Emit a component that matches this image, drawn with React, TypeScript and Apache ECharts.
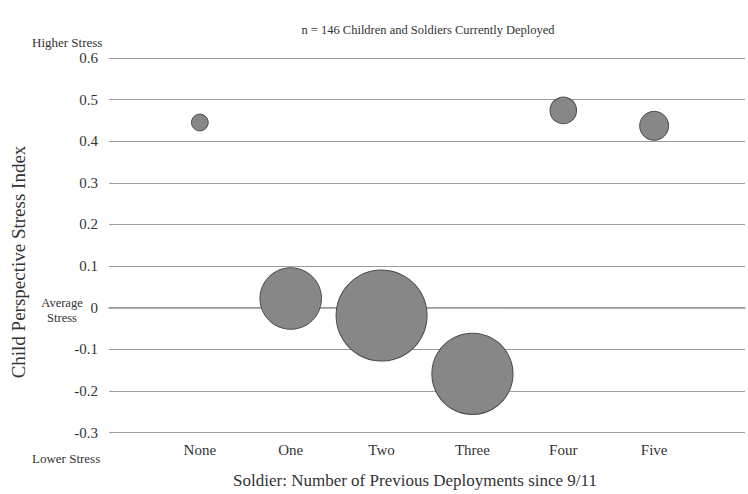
import React, { useEffect, useRef } from "react";
import * as echarts from "echarts";

const categories = ["None", "One", "Two", "Three", "Four", "Five"];
const stressIndex = [0.445, 0.022, -0.019, -0.159, 0.474, 0.437];
const childCounts = [2, 27, 59, 47, 5, 6];
const yTicks = [-0.3, -0.2, -0.1, 0, 0.1, 0.2, 0.3, 0.4, 0.5, 0.6];

const FONT = "'Liberation Serif', 'Times New Roman', serif";

export default function App() {
  const ref = useRef<HTMLDivElement>(null);
  useEffect(() => {
    if (!ref.current) return;
    const chart = echarts.init(ref.current, null, { renderer: "svg" });
    const data = categories.map((c, i) => [i, stressIndex[i], childCounts[i]]);
    chart.setOption({
      animation: false,
      backgroundColor: "#ffffff",
      textStyle: { fontFamily: FONT },
      grid: { left: 109, top: 58, width: 637, height: 374.5, containLabel: false },
      title: {
        text: "n = 146 Children and Soldiers Currently Deployed",
        left: 423,
        top: 18,
        textAlign: "center",
        textStyle: { fontFamily: FONT, fontSize: 12.5, fontWeight: "normal", color: "#333" },
      },
      xAxis: {
        type: "value",
        min: -1,
        max: 6,
        interval: 1,
        axisLine: { show: true, lineStyle: { color: "#969696", width: 1.5 } },
        axisTick: { show: false },
        splitLine: { show: false },
        axisLabel: {
          fontFamily: FONT,
          fontSize: 15,
          color: "#333",
          margin: 10,
          formatter: (v: number) => (categories[v] !== undefined ? categories[v] : ""),
        },
      },
      yAxis: {
        type: "value",
        min: yTicks[0],
        max: yTicks[yTicks.length - 1],
        interval: 0.1,
        axisLine: { show: false },
        axisTick: { show: false },
        splitLine: { show: true, lineStyle: { color: "#9c9c9c", width: 1 } },
        axisLabel: {
          fontFamily: FONT,
          fontSize: 15,
          color: "#333",
          margin: 11,
          formatter: (v: number) => {
            const r = Math.round(v * 10) / 10;
            return r === 0 ? "0" : r.toFixed(1);
          },
        },
      },
      graphic: [
        {
          type: "text",
          x: 415,
          y: 480,
          style: {
            text: "Soldier: Number of Previous Deployments since 9/11",
            fontFamily: FONT,
            fontSize: 17,
            fill: "#333",
            align: "center",
            verticalAlign: "middle",
          },
        },
        {
          type: "text",
          x: 18,
          y: 262,
          rotation: Math.PI / 2,
          style: {
            text: "Child Perspective Stress Index",
            fontFamily: FONT,
            fontSize: 19,
            fill: "#333",
            align: "center",
            verticalAlign: "middle",
          },
        },
        {
          type: "text",
          x: 32,
          y: 42,
          style: {
            text: "Higher Stress",
            fontFamily: FONT,
            fontSize: 13,
            fill: "#333",
            verticalAlign: "middle",
          },
        },
        {
          type: "text",
          x: 62,
          y: 302,
          style: {
            text: "Average\nStress",
            fontFamily: FONT,
            fontSize: 12.5,
            lineHeight: 15,
            align: "center",
            verticalAlign: "top",
            fill: "#333",
            y: -7,
          },
        },
        {
          type: "text",
          x: 32,
          y: 458,
          style: {
            text: "Lower Stress",
            fontFamily: FONT,
            fontSize: 13,
            fill: "#333",
            verticalAlign: "middle",
          },
        },
      ],
      series: [
        {
          type: "scatter",
          data,
          symbol: "circle",
          symbolSize: (v: number[]) => Math.sqrt(v[2]) * 11.85,
          itemStyle: { color: "#878787", borderColor: "#4a4a4a", borderWidth: 1, opacity: 1 },
        },
      ],
    });
    return () => chart.dispose();
  }, []);
  return (
    <div
      ref={ref}
      style={{ position: "fixed", left: 0, top: 0, width: 748, height: 494 }}
    />
  );
}
